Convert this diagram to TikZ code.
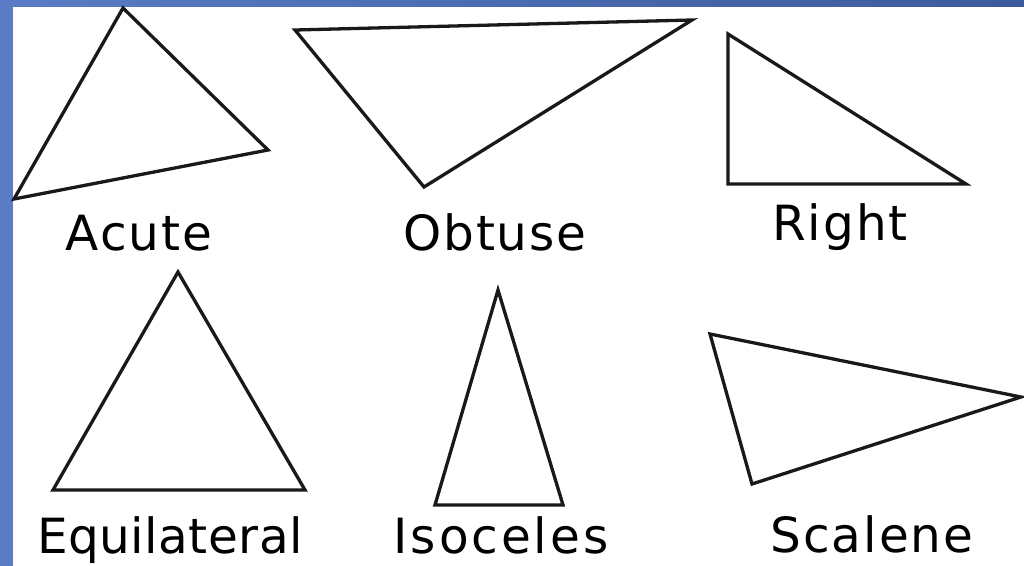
\documentclass[tikz,border=0pt]{standalone}
\usepackage{fontspec}
\setmainfont{DejaVu Sans}
\usetikzlibrary{positioning}

\begin{document}
\begin{tikzpicture}[
  x=1pt, y=-1pt,
  tri/.style={draw=black!90, line width=3.3pt, line join=miter},
  lbl/.style={anchor=base, inner sep=0pt, font=\fontsize{48.5}{58}\selectfont\addfontfeature{LetterSpace=4}}
]
\useasboundingbox (0,0) rectangle (1024,565);
% background
\shade[left color={rgb,255:red,90;green,124;blue,198}, right color={rgb,255:red,60;green,90;blue,155}]
  (0,0) rectangle (1024,565);
\fill[white] (13,7) rectangle (1030,570);
% triangles
\draw[tri] (123,8) -- (268,150) -- (14,199) -- cycle;
\draw[tri] (295,30) -- (692,20) -- (424,187) -- cycle;
\draw[tri] (728,34) -- (728,184) -- (966,184) -- cycle;
\draw[tri] (178,272) -- (53,490) -- (305,490) -- cycle;
\draw[tri] (498,290) -- (435,505) -- (563,505) -- cycle;
\draw[tri] (710,334) -- (1021,397) -- (752,484) -- cycle;
% labels
\node[lbl] (acute) at (139,250) {Acute};
\node[lbl] (obtuse) at (495,250) {Obtuse};
\node[lbl] (right) at (840,240) {Right};
\node[lbl, font=\fontsize{48.5}{58}\selectfont\addfontfeature{LetterSpace=1}] (equi) at (170,553) {Equilateral};
\node[lbl, font=\fontsize{48.5}{58}\selectfont\addfontfeature{LetterSpace=6}] (iso) at (501,553) {Isoceles};
\node[lbl] (scal) at (872,552) {Scalene};
\end{tikzpicture}
\end{document}
